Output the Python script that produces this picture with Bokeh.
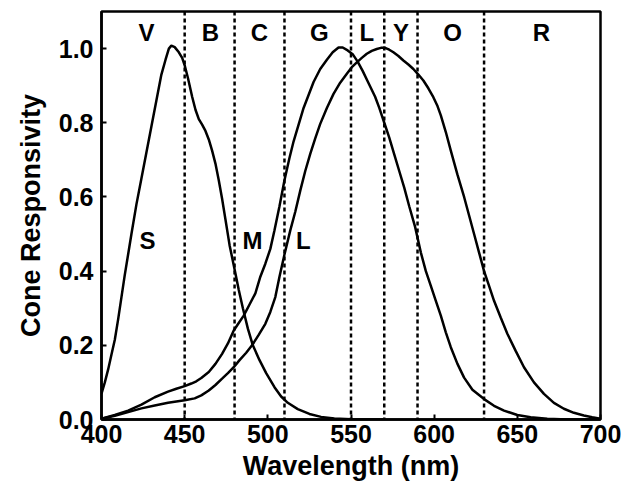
from bokeh.plotting import figure
from bokeh.models import Range1d, Span, FixedTicker
from bokeh.core.properties import value
from bokeh.embed import file_html
from bokeh.resources import INLINE

# Cone responsivity curves (wavelength in nm, normalised response)
s_nm = [400, 402, 404, 406, 408, 410, 412, 414, 416, 418, 421, 424, 427, 430, 433, 436,
        438.5, 440.5, 442, 444, 446.5, 448.5, 450, 452, 454.5, 456.5, 458.5, 460.5, 462.5,
        464.5, 466.5, 468.5, 470.5, 472.5, 474.5, 477, 480, 482.5, 485, 488, 491, 495, 499,
        504, 508, 512, 518, 525, 532, 540, 550, 560, 570]
s_resp = [0.07, 0.10, 0.135, 0.175, 0.215, 0.27, 0.33, 0.39, 0.445, 0.50, 0.58, 0.65, 0.72,
          0.79, 0.86, 0.93, 0.97, 1.0, 1.008, 1.004, 0.99, 0.975, 0.955, 0.92, 0.87, 0.835,
          0.81, 0.795, 0.778, 0.755, 0.725, 0.69, 0.645, 0.595, 0.54, 0.47, 0.405, 0.35,
          0.30, 0.245, 0.20, 0.16, 0.125, 0.087, 0.062, 0.045, 0.028, 0.015, 0.007, 0.003,
          0.001, 0.0, 0.0]

m_nm = [400, 408, 416, 424, 432, 440, 445, 450, 454, 457, 460, 464.5, 468.5, 472.5, 476,
        479.5, 482.5, 485.5, 489, 492.5, 495.5, 498.5, 501.5, 504, 507, 510, 513, 515.5,
        521.5, 527.5, 531.5, 535.5, 539, 542.5, 545, 548, 551, 554, 557, 560, 564.5, 567,
        570, 573, 576, 579, 582, 585, 588.5, 592, 595, 598, 601, 604, 607, 610, 614, 618,
        623, 630, 636, 642, 650, 658, 668, 680, 700]
m_resp = [0.002, 0.012, 0.024, 0.04, 0.06, 0.075, 0.083, 0.09, 0.097, 0.103, 0.112, 0.128,
          0.15, 0.177, 0.205, 0.24, 0.26, 0.28, 0.31, 0.34, 0.385, 0.42, 0.46, 0.51, 0.575,
          0.645, 0.705, 0.75, 0.84, 0.91, 0.945, 0.97, 0.99, 1.003, 1.003, 0.995, 0.985,
          0.965, 0.94, 0.912, 0.87, 0.84, 0.80, 0.76, 0.715, 0.67, 0.625, 0.575, 0.52, 0.45,
          0.40, 0.36, 0.32, 0.28, 0.235, 0.195, 0.15, 0.113, 0.08, 0.055, 0.037, 0.024,
          0.012, 0.006, 0.002, 0.0, 0.0]

l_nm = [400, 408, 416, 424, 432, 440, 450, 456, 460, 464.5, 468.5, 472.5, 476, 479.5, 483,
        487, 490.5, 494.5, 498.5, 501.5, 504.5, 507, 510, 513.5, 516.5, 519.5, 522.5, 525.5,
        528.5, 531.5, 535.5, 539.5, 543.5, 547.5, 550.5, 553.5, 556.5, 559.5, 562.5, 565.5,
        568, 570.5, 573, 575.5, 578.5, 581.5, 584.5, 587.5, 590.5, 593.5, 596.5, 599.5, 602,
        604, 607, 610, 614, 618, 621, 624, 627, 630, 633, 636, 640, 644, 649, 654, 660, 666,
        672, 678, 684, 690, 695, 700]
l_resp = [0.002, 0.01, 0.02, 0.03, 0.038, 0.045, 0.052, 0.057, 0.065, 0.078, 0.093, 0.11,
          0.125, 0.141, 0.16, 0.18, 0.20, 0.228, 0.258, 0.29, 0.33, 0.385, 0.445, 0.51,
          0.56, 0.617, 0.67, 0.716, 0.758, 0.797, 0.84, 0.878, 0.908, 0.932, 0.95, 0.963,
          0.975, 0.986, 0.994, 0.999, 1.002, 1.002, 0.997, 0.99, 0.98, 0.968, 0.957, 0.945,
          0.93, 0.914, 0.893, 0.869, 0.845, 0.82, 0.775, 0.725, 0.66, 0.60, 0.55, 0.50, 0.45,
          0.40, 0.36, 0.32, 0.275, 0.231, 0.185, 0.141, 0.10, 0.069, 0.045, 0.029, 0.018,
          0.011, 0.006, 0.002]

# Colour band boundaries and band names
band_edges = [450, 480, 510, 550, 570, 590, 630]
band_names = ["V", "B", "C", "G", "L", "Y", "O", "R"]
band_centres = [427, 465.5, 495, 531, 559.5, 580, 611, 664.5]
band_label_y = 1.043

# Cone curve names and where they are written
cone_names = ["S", "M", "L"]
cone_label_x = [427.7, 490.8, 521.4]
cone_label_y = [0.482, 0.482, 0.482]

x_ticks = [400, 450, 500, 550, 600, 650, 700]
y_ticks = [0.0, 0.2, 0.4, 0.6, 0.8, 1.0]

FONT = "Liberation Sans"

p = figure(width=631, height=493, output_backend="svg", toolbar_location=None,
           x_range=Range1d(400, 700), y_range=Range1d(0, 1.1),
           min_border_left=101, min_border_right=31, min_border_top=11,
           min_border_bottom=74, background_fill_color="white",
           border_fill_color="white")

p.grid.visible = False
p.outline_line_color = "black"
p.outline_line_width = 2.5

for edge in band_edges:
    p.add_layout(Span(location=edge, dimension="height", line_color="black",
                      line_width=2.5, line_dash="4 3"))

for xs, ys in ((s_nm, s_resp), (m_nm, m_resp), (l_nm, l_resp)):
    p.line(xs, ys, line_color="black", line_width=2.5)

p.text(x=band_centres, y=[band_label_y] * len(band_names), text=band_names,
       text_font=value(FONT), text_font_style="bold", text_font_size="24px",
       text_align="center", text_baseline="middle", text_color="black")

p.text(x=cone_label_x, y=cone_label_y, text=cone_names,
       text_font=value(FONT), text_font_style="bold", text_font_size="24px",
       text_align="center", text_baseline="middle", text_color="black")

for ax in (p.xaxis[0], p.yaxis[0]):
    ax.axis_line_color = "black"
    ax.axis_line_width = 2.5
    ax.major_tick_in = 5
    ax.major_tick_out = 0
    ax.major_tick_line_width = 2
    ax.minor_tick_line_color = None
    ax.major_label_text_font = FONT
    ax.major_label_text_font_style = "bold"
    ax.major_label_text_font_size = "25px"
    ax.major_label_text_color = "black"
    ax.axis_label_text_font = FONT
    ax.axis_label_text_font_style = "bold"
    ax.axis_label_text_font_size = "27px"
    ax.axis_label_text_color = "black"

p.xaxis.ticker = FixedTicker(ticks=x_ticks)
p.yaxis.ticker = FixedTicker(ticks=y_ticks)
p.yaxis.major_label_overrides = {t: f"{t:.1f}" for t in y_ticks}
p.xaxis.axis_label = "Wavelength (nm)"
p.yaxis.axis_label = "Cone Responsivity"
p.xaxis.major_label_standoff = 5
p.yaxis.major_label_standoff = 8
p.xaxis.axis_label_standoff = 5
p.yaxis.axis_label_standoff = 10

open("out.html", "w").write(file_html(p, INLINE))
